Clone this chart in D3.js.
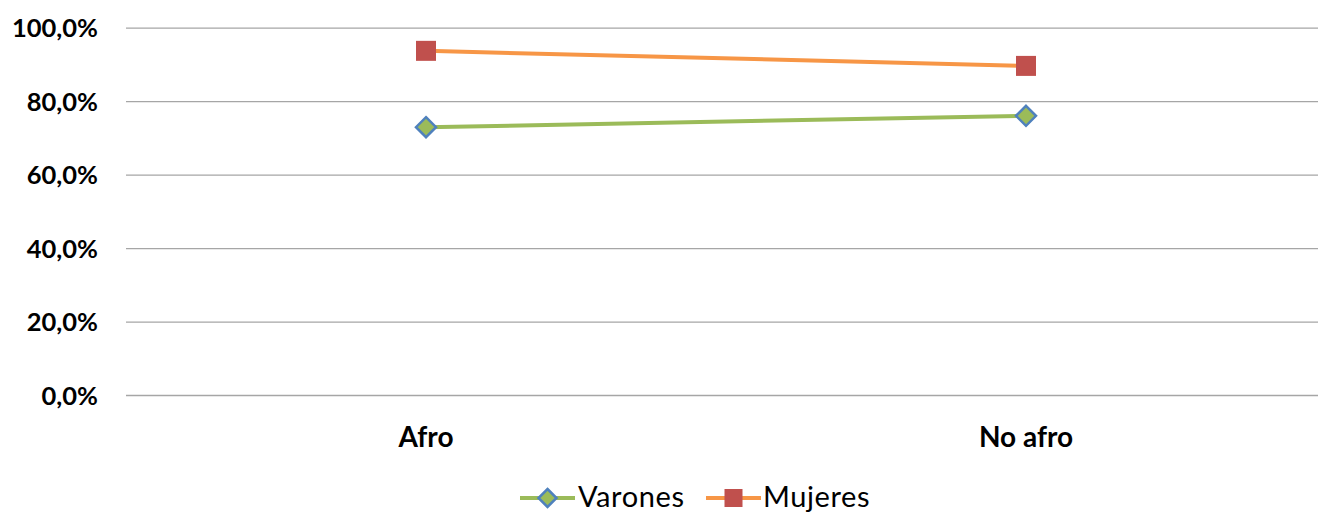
<!DOCTYPE html>
<html>
<head>
<meta charset="utf-8">
<script src="https://cdn.jsdelivr.net/npm/d3@7"></script>
<style>
  html, body { margin: 0; padding: 0; background: #fff; }
  svg { display: block; }
  text { font-family: Lato, "Open Sans", sans-serif; fill: #000; }
</style>
</head>
<body>
<svg id="chart" width="1318" height="512"></svg>
<script>
// Categories, series and tick labels
const categories = ["Afro", "No afro"];
const varones = [72.9, 76.0];
const mujeres = [93.7, 89.6];
const yTicks = [0, 20, 40, 60, 80, 100];

const svg = d3.select("#chart");
const plotLeft = 126, plotRight = 1326, plotTop = 27.7, plotBottom = 395;

const x = d3.scaleBand().domain(categories).range([plotLeft, plotRight]);
const y = d3.scaleLinear().domain([0, 100]).range([plotBottom, plotTop]);
const fmt = v => d3.format(".1f")(v).replace(".", ",") + "%";

// Horizontal gridlines and y labels
const yAxis = d3.axisLeft(y).tickValues(yTicks).tickFormat(fmt)
  .tickSize(-(plotRight - plotLeft)).tickPadding(28);
const gy = svg.append("g").attr("transform", `translate(${plotLeft},0)`).call(yAxis);
gy.select(".domain").remove();
gy.selectAll(".tick line").attr("stroke", "#a6a6a6").attr("stroke-width", 1.3);
gy.selectAll(".tick text")
  .attr("font-size", 25.5).attr("font-weight", "bold")
  .attr("font-family", "Lato, sans-serif").attr("fill", "#000")
  .attr("dy", "0.36em");

// Category labels
const xAxis = d3.axisBottom(x).tickSize(0).tickPadding(32);
const gx = svg.append("g").attr("transform", `translate(0,${plotBottom})`).call(xAxis);
gx.select(".domain").remove();
gx.selectAll(".tick text")
  .attr("font-size", 28).attr("font-weight", "bold")
  .attr("font-family", "Lato, sans-serif").attr("fill", "#000");

const cx = c => x(c) + x.bandwidth() / 2;
const line = d3.line().x((d, i) => cx(categories[i])).y(d => y(d));

const greenLine = "#9bbb59", orangeLine = "#f79646";
const diamondFill = "#9bbb59", diamondStroke = "#4f81bd";
const squareFill = "#c0504d";

// Series lines
svg.append("path").datum(varones).attr("d", line)
  .attr("fill", "none").attr("stroke", greenLine).attr("stroke-width", 4);
svg.append("path").datum(mujeres).attr("d", line)
  .attr("fill", "none").attr("stroke", orangeLine).attr("stroke-width", 4);

const diamond = (g, px, py, r) => g.append("path")
  .attr("d", `M${px},${py - r}L${px + r},${py}L${px},${py + r}L${px - r},${py}Z`)
  .attr("fill", diamondFill).attr("stroke", diamondStroke).attr("stroke-width", 2.5);
const square = (g, px, py, s) => g.append("rect")
  .attr("x", px - s / 2).attr("y", py - s / 2).attr("width", s).attr("height", s)
  .attr("fill", squareFill);

// Markers
varones.forEach((v, i) => diamond(svg, cx(categories[i]), y(v), 10));
mujeres.forEach((v, i) => square(svg, cx(categories[i]), y(v), 20));

// Legend
const ly = 498;
const leg = svg.append("g");
leg.append("line").attr("x1", 520).attr("x2", 575).attr("y1", ly).attr("y2", ly)
  .attr("stroke", greenLine).attr("stroke-width", 4);
diamond(leg, 547.5, ly, 9);
leg.append("text").attr("x", 578).attr("y", 507)
  .attr("font-size", 29).attr("letter-spacing", 0.6).text("Varones");
leg.append("line").attr("x1", 706).attr("x2", 761).attr("y1", ly).attr("y2", ly)
  .attr("stroke", orangeLine).attr("stroke-width", 4);
square(leg, 733.5, ly, 18);
leg.append("text").attr("x", 763).attr("y", 507)
  .attr("font-size", 29).attr("letter-spacing", 0.6).text("Mujeres");
</script>
</body>
</html>
